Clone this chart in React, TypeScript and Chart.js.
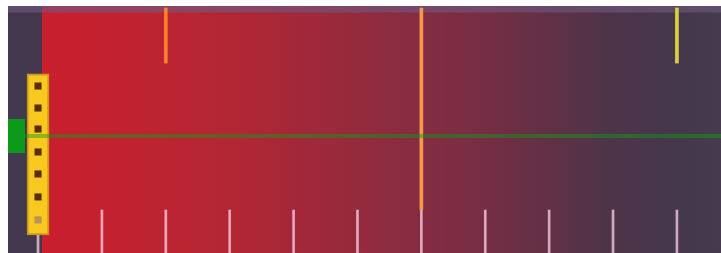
import React, { useEffect, useRef } from "react";
import { Chart, registerables } from "chart.js";

Chart.register(...registerables);

// Scale ranges (value space)
const X_RANGE = [-0.47, 10.69];
const Y_RANGE = [0, 100];

// Ruler ticks along the bottom
const RULER_TICKS = [0, 1, 2, 3, 4, 5, 6, 7, 8, 9, 10];
const RULER_TICK_SPAN = [0, 17.4];

// Coloured band start
const BAND_START = 0.06;

// Header band
const HEADER_BAND = [97.4, 100];

// Short marks hanging from the top
const TOP_MARK_X = [2, 10];
const TOP_MARK_SPAN = [76.9, 99.2];
const TOP_MARK_COLORS = ["#ff7f32", "#d9d13e"];

// Full-height current marker
const CURRENT_X = 6;
const CURRENT_SPAN = [17.4, 99.2];

// Horizontal target line
const TARGET_Y = 47.4;

// Yellow strip with holes
const STRIP_X = 0;
const STRIP_SPAN = [7.3, 72.5];
const STRIP_HOLES = [67.6, 58.7, 50.2, 40.9, 32.0, 22.7, 13.4];
const STRIP_HOLE_COLORS = ["#5a2e0a", "#5a2e0a", "#5a2e0a", "#5a2e0a", "#5a2e0a", "#5a2e0a", "#b8925a"];

const GRADIENT_STOPS: [number, string][] = [
  [0.0, "#c91f2e"],
  [0.09, "#c4212f"],
  [0.18, "#bc2431"],
  [0.275, "#b32634"],
  [0.375, "#a32839"],
  [0.5, "#8f2b3f"],
  [0.645, "#772d44"],
  [0.745, "#623045"],
  [0.835, "#4e3449"],
  [0.94, "#45384c"],
  [1.0, "#463a4e"],
];

export default function App() {
  const ref = useRef<HTMLCanvasElement | null>(null);

  useEffect(() => {
    if (!ref.current) return;
    const chart = new Chart(ref.current, {
      type: "bar",
      data: {
        datasets: [
          {
            type: "line",
            data: [
              { x: BAND_START, y: Y_RANGE[1] },
              { x: X_RANGE[1], y: Y_RANGE[1] },
            ],
            fill: "start",
            borderWidth: 0,
            pointRadius: 0,
            order: 20,
            backgroundColor: (ctx: any) => {
              const { chart } = ctx;
              const area = chart.chartArea;
              if (!area) return "#c91f2e";
              const xs = chart.scales.x;
              const x0 = xs.getPixelForValue(BAND_START);
              const x1 = xs.getPixelForValue(X_RANGE[1]);
              const g = chart.ctx.createLinearGradient(x0, 0, x1, 0);
              GRADIENT_STOPS.forEach(([o, c]) => g.addColorStop(o, c));
              return g;
            },
          } as any,
          {
            type: "line",
            data: [
              { x: X_RANGE[0], y: HEADER_BAND[1] },
              { x: X_RANGE[1], y: HEADER_BAND[1] },
            ],
            fill: { value: HEADER_BAND[0] },
            backgroundColor: "rgba(112,88,128,0.62)",
            borderWidth: 0,
            pointRadius: 0,
            order: 19,
          } as any,
          {
            type: "bar",
            data: RULER_TICKS.map((x) => ({ x, y: RULER_TICK_SPAN })),
            backgroundColor: "rgba(255,210,232,0.74)",
            barThickness: 2,
            grouped: false,
            order: 18,
          } as any,
          {
            type: "bar",
            data: TOP_MARK_X.map((x) => ({ x, y: TOP_MARK_SPAN })),
            backgroundColor: TOP_MARK_COLORS,
            barThickness: 3,
            grouped: false,
            order: 17,
          } as any,
          {
            type: "bar",
            data: [{ x: CURRENT_X, y: CURRENT_SPAN }],
            backgroundColor: "#f39a4a",
            barThickness: 3,
            grouped: false,
            order: 16,
          } as any,
          {
            type: "bar",
            data: [{ x: STRIP_X, y: STRIP_SPAN }],
            backgroundColor: "#f9c81e",
            borderColor: "#c99a1c",
            borderWidth: 2,
            borderSkipped: false,
            barThickness: 22,
            grouped: false,
            order: 15,
          } as any,
          {
            type: "line",
            data: STRIP_HOLES.map((y) => ({ x: STRIP_X, y })),
            showLine: false,
            pointStyle: "rect",
            pointRadius: 5,
            pointBackgroundColor: STRIP_HOLE_COLORS,
            pointBorderWidth: 0,
            order: 14,
          } as any,
          {
            type: "line",
            data: [
              { x: X_RANGE[0], y: TARGET_Y },
              { x: X_RANGE[1], y: TARGET_Y },
            ],
            borderColor: "rgba(10,160,20,0.45)",
            borderWidth: 4,
            pointRadius: 0,
            fill: false,
            order: 13,
          } as any,
          {
            type: "line",
            data: [{ x: X_RANGE[0], y: TARGET_Y }],
            showLine: false,
            pointStyle: "rect",
            pointRadius: 24,
            pointBackgroundColor: "#0c9a1c",
            pointBorderWidth: 0,
            order: 12,
          } as any,
        ],
      },
      options: {
        animation: false,
        responsive: true,
        maintainAspectRatio: false,
        layout: { padding: 0, autoPadding: false },
        events: [],
        plugins: { legend: { display: false }, tooltip: { enabled: false } },
        scales: {
          x: {
            type: "linear",
            min: X_RANGE[0],
            max: X_RANGE[1],
            offset: false,
            display: false,
          },
          y: {
            type: "linear",
            min: Y_RANGE[0],
            max: Y_RANGE[1],
            display: false,
          },
        },
      } as any,
    });
    return () => chart.destroy();
  }, []);

  return (
    <div
      style={{
        position: "absolute",
        left: 8,
        top: 6,
        width: 713,
        height: 247,
        background: "#44384e",
      }}
    >
      <canvas ref={ref} />
    </div>
  );
}
